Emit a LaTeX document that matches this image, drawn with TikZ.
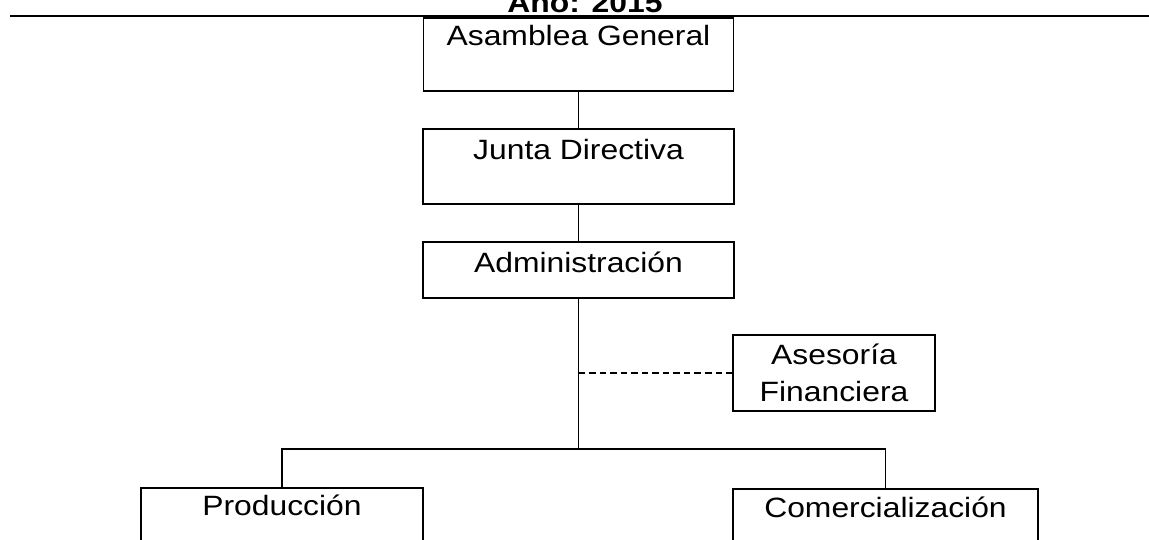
\documentclass[tikz,border=0pt]{standalone}
\usepackage{fontspec}
\setmainfont{Liberation Sans}[FakeStretch=1.14]
\usepackage{tikz}
\usetikzlibrary{positioning}
\tikzstyle{box} = [draw, rectangle, inner sep=0pt, line width=0.9pt, anchor=north]
\tikzstyle{line} = [-, line width=0.9pt]
\tikzstyle{aux} = [-, line width=0.8pt, dash pattern=on 3.7pt off 2.3pt]

\begin{document}
\begin{tikzpicture}[x=0.02cm, y=-0.02cm, font=\fontsize{15.9pt}{21pt}\selectfont]

    \useasboundingbox (0, 0) rectangle (1149, 540);
    \clip (0, 0) rectangle (1149, 540);

    \node [anchor=base, font=\fontsize{15.9pt}{21pt}\selectfont\bfseries] (title) at (585, 13) {Año: 2015};
    \coordinate (rulel) at (10, 16);
    \coordinate (ruler) at (1149, 16);
    \draw [line] (rulel) -- (ruler);

    \node [box, minimum width=6.2cm, text height=0.56cm, text depth=0.9cm] (asamblea) at (578.5, 17) {Asamblea General};
    \node [box, minimum width=6.22cm, text height=0.62cm, text depth=0.88cm] (junta) at (578.5, 128) {Junta Directiva};
    \node [box, minimum width=6.22cm, text height=0.62cm, text depth=0.5cm] (admin) at (578.5, 241) {Administración};
    \node [box, anchor=center, minimum width=4.04cm, minimum height=1.52cm, align=center] (asesoria) at (834, 373) {Asesoría\\Financiera};
    \node [box, minimum width=5.64cm, text height=0.56cm, text depth=0.8cm] (prod) at (282, 487) {Producción};
    \node [box, minimum width=6.1cm, text height=0.58cm, text depth=0.8cm] (comer) at (885.5, 488) {Comercialización};

    \coordinate (advice) at (578.5, 373);
    \coordinate (split) at (578.5, 449);

    \draw [line] (asamblea) -- (junta);
    \draw [line] (junta) -- (admin);
    \draw [line] (admin) -- (split);
    \draw [line] (prod.north) |- (split) -| (comer.north);
    \draw [aux] (advice) -- (asesoria.west);

\end{tikzpicture}
\end{document}
